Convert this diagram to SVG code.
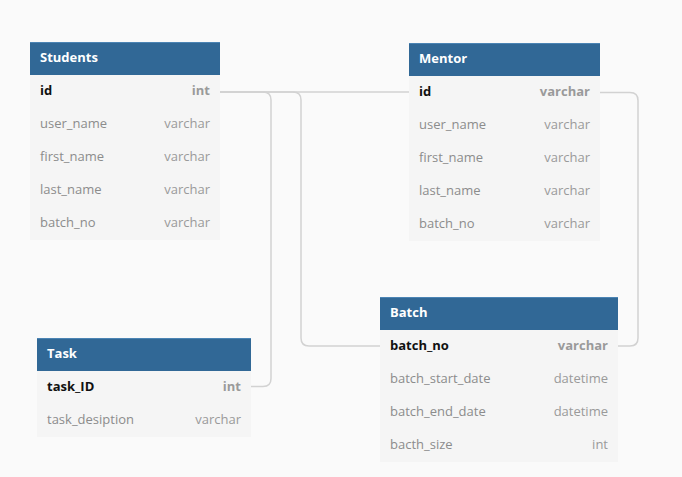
<svg xmlns="http://www.w3.org/2000/svg" width="682" height="477" viewBox="0 0 682 477">
  <defs>
    <style>
      .hdr { fill: #316896; }
      .hdrtop { fill: #4b84b4; }
      .body { fill: #f5f5f5; }
      .title { font-family: "Open Sans", "Noto Sans", sans-serif; font-size: 13px; font-weight: bold; fill: #ffffff; }
      .fname { font-family: "Open Sans", "Noto Sans", sans-serif; font-size: 13px; fill: #8c8c8c; }
      .ftype { font-family: "Open Sans", "Noto Sans", sans-serif; font-size: 13px; fill: #9a9a9a; text-anchor: end; }
      .pk { fill: #111111; font-weight: bold; }
      .pkt { font-weight: bold; fill: #9a9a9a; }
      .conn { fill: none; stroke: #d2d2d2; stroke-width: 1.5; }
    </style>
  </defs>
  <rect x="0" y="0" width="682" height="477" fill="#fafafa"/>

  <g id="connectors">
    <path class="conn" d="M220,92 H409"/>
    <path class="conn" d="M220,92 H263 Q271,92 271,100 V378.5 Q271,386.5 263,386.5 H251"/>
    <path class="conn" d="M220,92 H293 Q301,92 301,100 V338 Q301,346 309,346 H380"/>
    <path class="conn" d="M600,92.5 H630 Q638,92.5 638,100.5 V338 Q638,346 630,346 H618"/>
  </g>

  <g id="students">
    <rect class="body" x="30" y="75" width="190" height="165"/>
    <rect class="hdr" x="30" y="42" width="190" height="33"/>
    <rect class="hdrtop" x="30" y="42" width="190" height="1"/>
    <text class="title" x="40" y="62">Students</text>
    <text class="fname pk" x="40" y="95">id</text>
    <text class="ftype pkt" x="210" y="95">int</text>
    <text class="fname" x="40" y="128">user_name</text>
    <text class="ftype" x="210" y="128">varchar</text>
    <text class="fname" x="40" y="161">first_name</text>
    <text class="ftype" x="210" y="161">varchar</text>
    <text class="fname" x="40" y="194">last_name</text>
    <text class="ftype" x="210" y="194">varchar</text>
    <text class="fname" x="40" y="227">batch_no</text>
    <text class="ftype" x="210" y="227">varchar</text>
  </g>

  <g id="mentor">
    <rect class="body" x="409" y="76" width="191" height="165"/>
    <rect class="hdr" x="409" y="43" width="191" height="33"/>
    <rect class="hdrtop" x="409" y="43" width="191" height="1"/>
    <text class="title" x="419" y="63">Mentor</text>
    <text class="fname pk" x="419" y="96">id</text>
    <text class="ftype pkt" x="590" y="96">varchar</text>
    <text class="fname" x="419" y="129">user_name</text>
    <text class="ftype" x="590" y="129">varchar</text>
    <text class="fname" x="419" y="162">first_name</text>
    <text class="ftype" x="590" y="162">varchar</text>
    <text class="fname" x="419" y="195">last_name</text>
    <text class="ftype" x="590" y="195">varchar</text>
    <text class="fname" x="419" y="228">batch_no</text>
    <text class="ftype" x="590" y="228">varchar</text>
  </g>

  <g id="task">
    <rect class="body" x="37" y="371" width="214" height="66"/>
    <rect class="hdr" x="37" y="338" width="214" height="33"/>
    <rect class="hdrtop" x="37" y="338" width="214" height="1"/>
    <text class="title" x="47" y="358">Task</text>
    <text class="fname pk" x="47" y="391">task_ID</text>
    <text class="ftype pkt" x="241" y="391">int</text>
    <text class="fname" x="47" y="424">task_desiption</text>
    <text class="ftype" x="241" y="424">varchar</text>
  </g>

  <g id="batch">
    <rect class="body" x="380" y="330" width="238" height="132"/>
    <rect class="hdr" x="380" y="297" width="238" height="33"/>
    <rect class="hdrtop" x="380" y="297" width="238" height="1"/>
    <text class="title" x="390" y="317">Batch</text>
    <text class="fname pk" x="390" y="350">batch_no</text>
    <text class="ftype pkt" x="608" y="350">varchar</text>
    <text class="fname" x="390" y="383">batch_start_date</text>
    <text class="ftype" x="608" y="383">datetime</text>
    <text class="fname" x="390" y="416">batch_end_date</text>
    <text class="ftype" x="608" y="416">datetime</text>
    <text class="fname" x="390" y="449">bacth_size</text>
    <text class="ftype" x="608" y="449">int</text>
  </g>
</svg>
